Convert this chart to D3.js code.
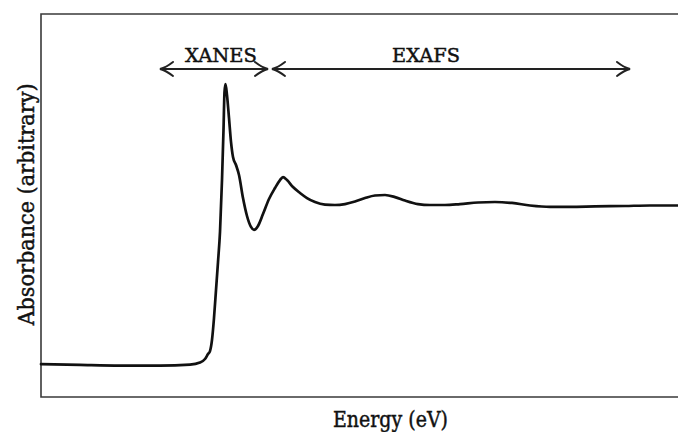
<!DOCTYPE html>
<html>
<head>
<meta charset="utf-8">
<script src="https://cdn.jsdelivr.net/npm/d3@7"></script>
<style>
  html, body { margin: 0; padding: 0; background: #fff; }
  svg { display: block; }
  text { font-family: "DejaVu Serif", "Liberation Serif", serif; fill: #111; stroke: #111; stroke-width: 0.45; }
</style>
</head>
<body>
<svg id="chart" width="678" height="432"></svg>
<script>
// Absorption spectrum around an edge: energy relative to the edge (eV)
const energy = [-172, -133, -93, -53, -23, -13, -8, -5, -3, -1, 1, 3, 5, 7, 9, 10.5, 11.5, 12.5,
  14, 16, 18, 20, 23, 26, 30, 34, 38, 41, 45, 50, 56, 62, 67, 70, 74, 80, 87, 94, 102, 112,
  122, 132, 142, 152, 162, 172, 182, 192, 205, 217, 232, 247, 265, 282, 299, 317, 337, 357,
  382, 412, 437, 465];
// Normalised absorbance (edge step = 1)
const absorbance = [-0.003, -0.008, -0.012, -0.012, -0.006, 0.007, 0.029, 0.060, 0.079, 0.149,
  0.287, 0.463, 0.639, 0.828, 1.155, 1.470, 1.709, 1.759, 1.690, 1.546, 1.395, 1.300, 1.250,
  1.187, 1.042, 0.929, 0.860, 0.841, 0.866, 0.941, 1.036, 1.105, 1.155, 1.174, 1.155, 1.111,
  1.074, 1.042, 1.017, 1.001, 0.998, 1.004, 1.020, 1.042, 1.058, 1.061, 1.048, 1.026, 1.004,
  0.998, 0.998, 1.004, 1.014, 1.017, 1.011, 0.995, 0.986, 0.986, 0.989, 0.992, 0.995, 0.995];

// Spectral regions shown with double-headed arrows
const regionNames = ["XANES", "EXAFS"];
const regionStart = [-53, 59];
const regionEnd = [55, 417];
const regionLabelAt = [8, 213];
const regionLevel = 1.854;

const xTitle = "Energy (eV)";
const yTitle = "Absorbance (arbitrary)";

const svg = d3.select("#chart");
const plot = { left: 41, top: 14, right: 678, bottom: 397 };

const x = d3.scaleLinear().domain([-172, 465]).range([plot.left, plot.right]);
const y = d3.scaleLinear().domain([-0.21, 2.2]).range([plot.bottom, plot.top]);

// Plot frame (right side runs past the page edge)
svg.append("path")
  .attr("d", `M${plot.right + 10},${plot.top}H${plot.left}V${plot.bottom}H${plot.right + 10}`)
  .attr("fill", "none")
  .attr("stroke", "#3a3a3a")
  .attr("stroke-width", 1.6);

// Spectrum
const pts = energy.map((e, i) => [e, absorbance[i]]);
const line = d3.line()
  .x(d => x(d[0]))
  .y(d => y(d[1]))
  .curve(d3.curveMonotoneX);

svg.append("path")
  .datum(pts)
  .attr("d", line)
  .attr("fill", "none")
  .attr("stroke", "#111")
  .attr("stroke-width", 2.7)
  .attr("stroke-linejoin", "round")
  .attr("stroke-linecap", "round");

// Region arrows
const regions = regionNames.map((n, i) => ({
  name: n, from: regionStart[i], to: regionEnd[i], labelAt: regionLabelAt[i]
}));

function head(tipX, tipY, dir) {
  const back = 13, spread = 7;
  const bx = tipX - dir * back;
  return `M${bx},${tipY - spread}Q${tipX - dir * 6},${tipY - 1.5} ${tipX},${tipY}` +
         `Q${tipX - dir * 6},${tipY + 1.5} ${bx},${tipY + spread}`;
}

const g = svg.append("g");
regions.forEach(r => {
  const yy = y(regionLevel);
  const x0 = x(r.from), x1 = x(r.to);
  g.append("line")
    .attr("x1", x0 + 1).attr("x2", x1 - 1)
    .attr("y1", yy).attr("y2", yy)
    .attr("stroke", "#222").attr("stroke-width", 2);
  g.append("path").attr("d", head(x0, yy, -1))
    .attr("fill", "none").attr("stroke", "#222").attr("stroke-width", 2)
    .attr("stroke-linecap", "round");
  g.append("path").attr("d", head(x1, yy, 1))
    .attr("fill", "none").attr("stroke", "#222").attr("stroke-width", 2)
    .attr("stroke-linecap", "round");
  g.append("text")
    .attr("x", x(r.labelAt))
    .attr("y", yy - 7)
    .attr("text-anchor", "middle")
    .attr("font-size", 18.5)
    .attr("textLength", r.name === "XANES" ? 72 : 68)
    .attr("lengthAdjust", "spacingAndGlyphs")
    .text(r.name);
});

// Axis titles
svg.append("text")
  .attr("x", (plot.left + plot.right) / 2 + 31)
  .attr("y", 427)
  .attr("text-anchor", "middle")
  .attr("font-size", 21.5)
  .attr("textLength", 115)
  .attr("lengthAdjust", "spacingAndGlyphs")
  .text(xTitle);

svg.append("text")
  .attr("transform", `translate(34,${(plot.top + plot.bottom) / 2 - 1}) rotate(-90)`)
  .attr("text-anchor", "middle")
  .attr("font-size", 21.5)
  .attr("textLength", 242)
  .attr("lengthAdjust", "spacingAndGlyphs")
  .text(yTitle);
</script>
</body>
</html>
